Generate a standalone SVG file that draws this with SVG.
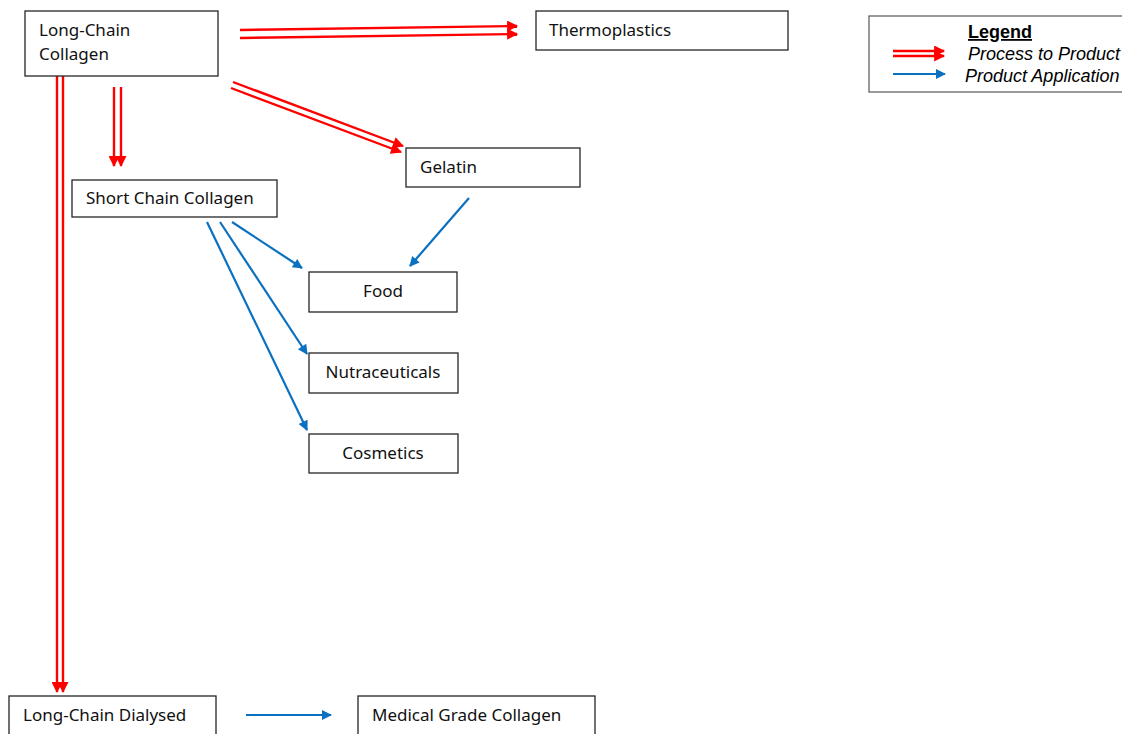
<svg xmlns="http://www.w3.org/2000/svg" width="1122" height="734" viewBox="0 0 1122 734">
<defs>
<style>
.box{fill:#fff;stroke:#262626;stroke-width:1.3}
.t{font-family:"Noto Sans","Open Sans",sans-serif;font-size:17px;fill:#111}
.red{stroke:#ff0000;stroke-width:2.4;fill:none}
.blue{stroke:#0a70c0;stroke-width:2.2;fill:none}
.lg{font-family:"Liberation Sans",Arial,sans-serif;font-size:18px;fill:#000}
</style>
<marker id="ra" viewBox="0 0 10 10" refX="9" refY="5" markerWidth="13" markerHeight="11" markerUnits="userSpaceOnUse" orient="auto">
<path d="M0,0 L10,5 L0,10 Z" fill="#ff0000"/>
</marker>
<marker id="ba" viewBox="0 0 10 10" refX="9" refY="5" markerWidth="12" markerHeight="10" markerUnits="userSpaceOnUse" orient="auto">
<path d="M0,0 L10,5 L0,10 Z" fill="#0a70c0"/>
</marker>
</defs>
<rect width="1122" height="734" fill="#fff"/>
<g id="connectors">
<line class="red" x1="240" y1="30" x2="517" y2="26" marker-end="url(#ra)"/>
<line class="red" x1="240" y1="38" x2="517" y2="34" marker-end="url(#ra)"/>
<line class="red" x1="233" y1="82" x2="403" y2="146" marker-end="url(#ra)"/>
<line class="red" x1="231" y1="88" x2="401" y2="152" marker-end="url(#ra)"/>
<line class="red" x1="114" y1="87" x2="114" y2="166" marker-end="url(#ra)"/>
<line class="red" x1="121" y1="87" x2="121" y2="166" marker-end="url(#ra)"/>
<line class="red" x1="57" y1="76" x2="57" y2="692" marker-end="url(#ra)"/>
<line class="red" x1="63" y1="76" x2="63" y2="692" marker-end="url(#ra)"/>
<line class="blue" x1="232" y1="222" x2="302" y2="268" marker-end="url(#ba)"/>
<line class="blue" x1="220" y1="222" x2="307" y2="354" marker-end="url(#ba)"/>
<line class="blue" x1="207" y1="222" x2="307" y2="430" marker-end="url(#ba)"/>
<line class="blue" x1="469" y1="198" x2="410" y2="266" marker-end="url(#ba)"/>
<line class="blue" x1="246" y1="715" x2="331" y2="715" marker-end="url(#ba)"/>
</g>
<g id="long-chain-collagen">
<rect class="box" x="25" y="11" width="193" height="65"/>
<text class="t" x="39" y="36">Long-Chain</text>
<text class="t" x="39" y="60">Collagen</text>
</g>
<g id="thermoplastics">
<rect class="box" x="536" y="11" width="252" height="39"/>
<text class="t" x="549" y="36">Thermoplastics</text>
</g>
<g id="gelatin">
<rect class="box" x="406" y="148" width="174" height="39"/>
<text class="t" x="420" y="173">Gelatin</text>
</g>
<g id="short-chain-collagen">
<rect class="box" x="72" y="180" width="205" height="37"/>
<text class="t" x="86" y="204">Short Chain Collagen</text>
</g>
<g id="food">
<rect class="box" x="309" y="272" width="148" height="40"/>
<text class="t" x="383" y="297" text-anchor="middle">Food</text>
</g>
<g id="nutraceuticals">
<rect class="box" x="309" y="353" width="149" height="40"/>
<text class="t" x="383" y="378" text-anchor="middle">Nutraceuticals</text>
</g>
<g id="cosmetics">
<rect class="box" x="309" y="434" width="149" height="39"/>
<text class="t" x="383" y="459" text-anchor="middle">Cosmetics</text>
</g>
<g id="long-chain-dialysed">
<rect class="box" x="9" y="696" width="207" height="44"/>
<text class="t" x="23" y="721">Long-Chain Dialysed</text>
</g>
<g id="medical-grade-collagen">
<rect class="box" x="358" y="696" width="237" height="44"/>
<text class="t" x="372" y="721">Medical Grade Collagen</text>
</g>
<g id="legend">
<rect x="869" y="16" width="260" height="76" fill="#fff" stroke="#555" stroke-width="1.2"/>
<text class="lg" x="968" y="38" font-weight="bold" text-decoration="underline">Legend</text>
<line class="red" x1="893" y1="51" x2="944" y2="51" marker-end="url(#ra)" stroke-width="2"/>
<line class="red" x1="893" y1="56" x2="944" y2="56" marker-end="url(#ra)" stroke-width="2"/>
<text class="lg" x="968" y="60" font-style="italic">Process to Product</text>
<line class="blue" x1="893" y1="74" x2="945" y2="74" marker-end="url(#ba)"/>
<text class="lg" x="965" y="82" font-style="italic">Product Application</text>
</g>
</svg>
